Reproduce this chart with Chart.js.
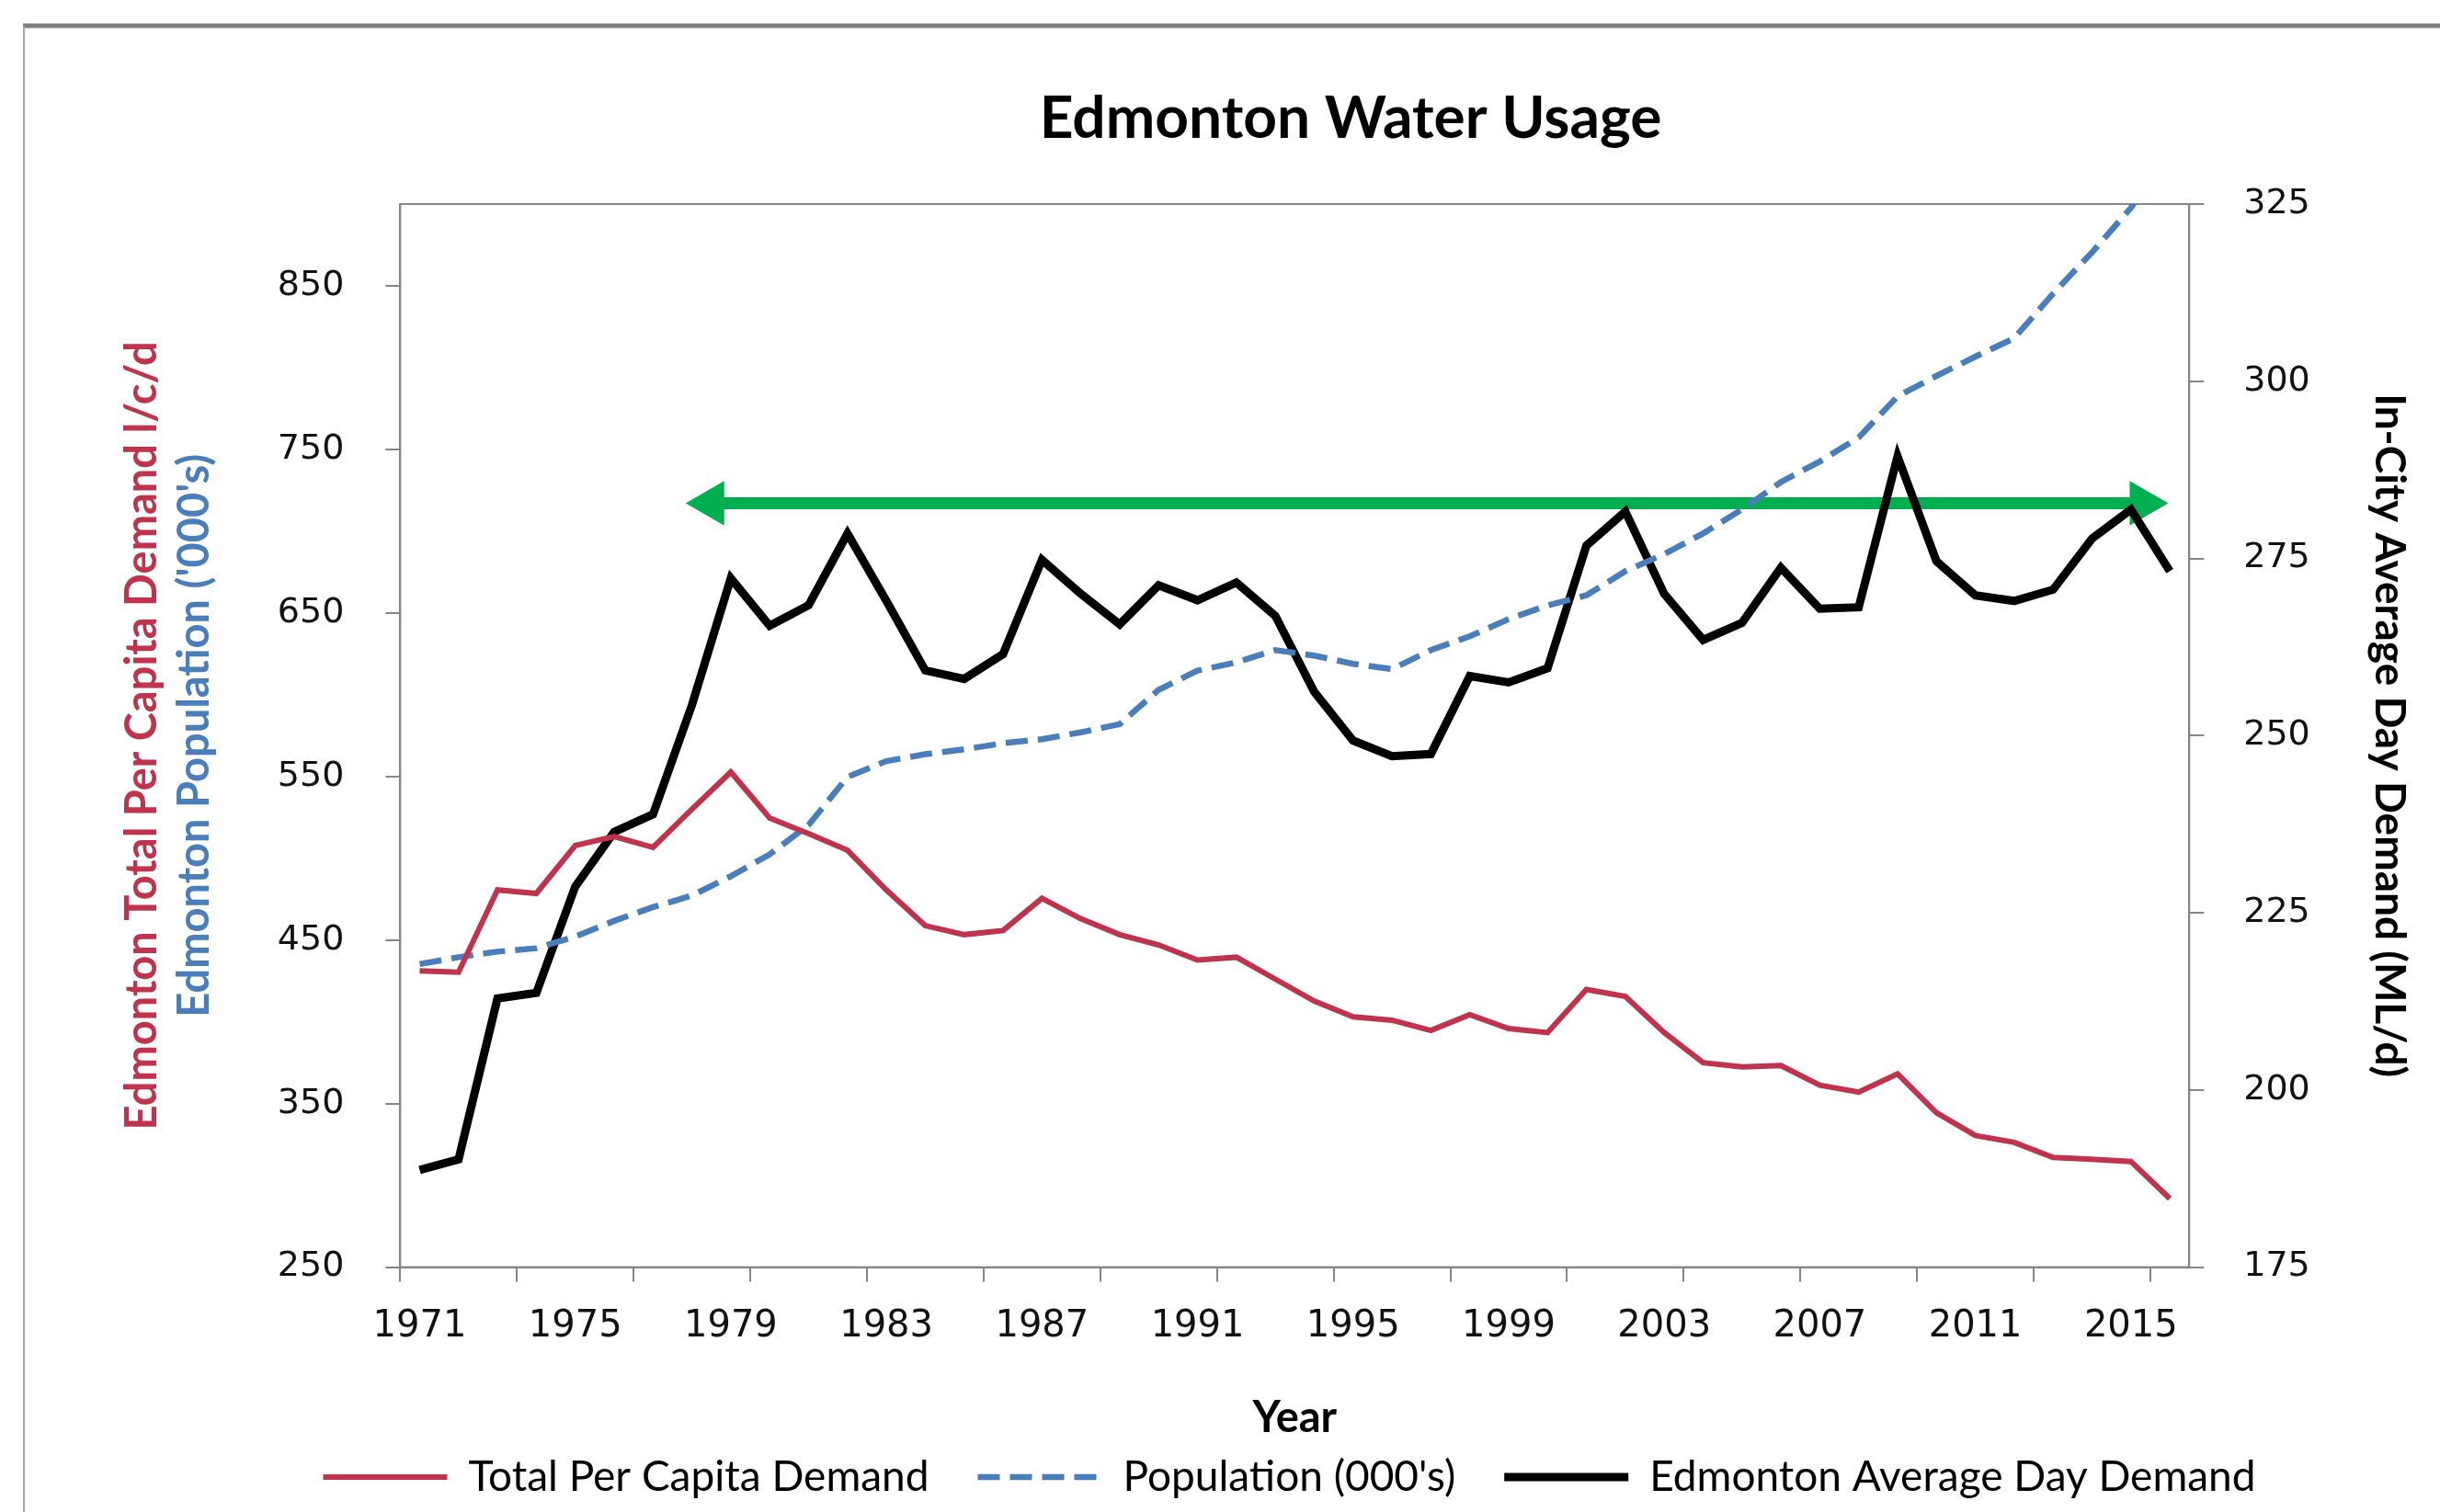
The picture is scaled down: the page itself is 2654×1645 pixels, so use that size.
<!DOCTYPE html>
<html>
<head>
<meta charset="utf-8">
<title>Edmonton Water Usage</title>
<script src="https://cdn.jsdelivr.net/npm/chart.js@4.4.1/dist/chart.umd.min.js"></script>
<style>
  html, body { margin: 0; padding: 0; background: #fff; }
  canvas { display: block; }
</style>
</head>
<body>
<canvas id="waterChart" width="2654" height="1645"></canvas>
<script>
// ======================================
// DATA
// ======================================
const years = [
  1971, 1972, 1973, 1974, 1975, 1976, 1977, 1978, 1979, 1980,
  1981, 1982, 1983, 1984, 1985, 1986, 1987, 1988, 1989, 1990,
  1991, 1992, 1993, 1994, 1995, 1996, 1997, 1998, 1999, 2000,
  2001, 2002, 2003, 2004, 2005, 2006, 2007, 2008, 2009, 2010,
  2011, 2012, 2013, 2014, 2015, 2016
];

// l/c/d, left axis
const perCapitaDemand = [
  431.1, 430.3, 480.6, 478.5, 507.8, 513.3, 506.6, 530.0, 552.7, 524.6,
  515.0, 504.9, 480.6, 458.8, 453.3, 455.8, 475.5, 463.0, 453.3, 447.0,
  437.8, 439.5, 426.1, 412.7, 403.1, 401.0, 394.7, 404.3, 395.9, 393.4,
  419.8, 415.6, 393.4, 375.0, 372.5, 373.3, 361.2, 357.0, 368.2, 344.4,
  330.5, 326.3, 317.1, 315.9, 314.6, 291.9
];

// thousands, left axis
const population = [
  435.3, 439.5, 442.9, 445.0, 452.1, 461.7, 470.1, 477.2, 489.0, 502.4,
  520.4, 549.7, 559.4, 563.6, 566.6, 570.3, 572.8, 577.0, 582.0, 603.0,
  614.7, 619.8, 627.3, 623.9, 618.9, 615.6, 627.3, 635.7, 646.2, 654.6,
  660.8, 675.5, 686.0, 698.6, 713.3, 730.0, 742.6, 757.3, 782.4, 794.9,
  806.7, 818.0, 845.3, 870.4, 897.7, 932.0
];

// ML/d, right axis
const avgDayDemand = [
  188.7, 190.2, 212.9, 213.7, 228.7, 236.4, 238.9, 254.3, 272.2, 265.5,
  268.4, 278.5, 269.0, 259.2, 258.0, 261.5, 274.8, 270.0, 265.7, 271.2,
  269.1, 271.6, 266.9, 256.2, 249.3, 247.1, 247.4, 258.4, 257.5, 259.5,
  276.8, 281.6, 270.0, 263.5, 265.9, 273.7, 267.9, 268.1, 289.4, 274.6,
  269.8, 269.0, 270.6, 277.8, 281.9, 273.2
];

const leftTicks = [250, 350, 450, 550, 650, 750, 850];
const rightTicks = [175, 200, 225, 250, 275, 300, 325];

// green double arrow (year, ML/d)
const arrowYears = [1978.5, 2015.3];
const arrowLevel = [282.8, 282.8];

const RED = '#c0334d';
const BLUE = '#4a7ebb';
const GREEN = '#00b050';
const AXIS_GREY = '#868686';

Chart.defaults.font.family = 'Lato';


// ======================================
// PLUGINS: frame, plot border, heading
// ======================================
const framePlugin = {
    id: 'frame',
    beforeDraw(chart) {
        const ctx = chart.ctx;
        ctx.save();
        ctx.fillStyle = '#fff';
        ctx.fillRect(0, 0, chart.width, chart.height);
        ctx.strokeStyle = '#7f7f7f';
        ctx.lineWidth = 5;
        ctx.beginPath();
        ctx.moveTo(25, 28);
        ctx.lineTo(chart.width, 28);
        ctx.stroke();
        ctx.strokeStyle = '#a6a6a6';
        ctx.lineWidth = 2;
        ctx.beginPath();
        ctx.moveTo(26, 28);
        ctx.lineTo(26, chart.height);
        ctx.stroke();
        ctx.restore();
    },
    beforeDatasetsDraw(chart) {
        const { ctx, chartArea } = chart;
        ctx.save();
        ctx.strokeStyle = AXIS_GREY;
        ctx.lineWidth = 2;
        ctx.strokeRect(chartArea.left, chartArea.top, chartArea.right - chartArea.left, chartArea.bottom - chartArea.top);
        ctx.restore();
    },
    afterDraw(chart) {
        const ctx = chart.ctx;
        ctx.save();
        ctx.font = 'bold 64px Lato';
        ctx.fillStyle = '#000';
        ctx.textAlign = 'center';
        ctx.textBaseline = 'alphabetic';
        ctx.fillText('Edmonton Water Usage', 1469, 150);
        ctx.restore();
    }
};


// ======================================
// CHART
// ======================================
const ctx = document.getElementById('waterChart').getContext('2d');

new Chart(ctx, {
    type: 'line',
    data: {
        labels: years,
        datasets: [
            {
                label: 'Total Per Capita Demand',
                data: perCapitaDemand,
                yAxisID: 'y',
                borderColor: RED,
                backgroundColor: RED,
                borderWidth: 6,
                pointRadius: 0,
                tension: 0
            },
            {
                label: "Population (000's)",
                data: population,
                yAxisID: 'y',
                borderColor: BLUE,
                backgroundColor: BLUE,
                borderWidth: 6.5,
                borderDash: [24, 11],
                pointRadius: 0,
                tension: 0
            },
            {
                label: 'Edmonton Average Day Demand',
                data: avgDayDemand,
                yAxisID: 'y2',
                borderColor: '#000',
                backgroundColor: '#000',
                borderWidth: 9,
                pointRadius: 0,
                tension: 0
            },
            {
                label: 'arrow',
                data: arrowYears.map((yr, i) => ({ x: yr, y: arrowLevel[i] })),
                xAxisID: 'xa',
                yAxisID: 'y2',
                borderColor: GREEN,
                borderWidth: 13,
                pointStyle: 'triangle',
                pointRadius: 28,
                pointRotation: [-90, 90],
                pointBackgroundColor: GREEN,
                pointBorderWidth: 0,
                pointHoverRadius: 28
            }
        ]
    },
    options: {
        responsive: false,
        animation: false,
        devicePixelRatio: 1,
        layout: { padding: { left: 179, right: 28, top: 222, bottom: 5 } },
        scales: {
            x: {
                type: 'category',
                offset: true,
                grid: {
                    offset: true,
                    drawOnChartArea: false,
                    tickLength: 16,
                    lineWidth: 2,
                    color: c => (c.index % 3 === 0 ? AXIS_GREY : 'rgba(0,0,0,0)')
                },
                border: { color: AXIS_GREY, width: 2 },
                ticks: {
                    autoSkip: false,
                    maxRotation: 0,
                    padding: 25,
                    color: '#111',
                    font: { family: 'DejaVu Sans', size: 40 },
                    callback: (val, i) => (i % 4 === 0 ? years[i] : '')
                },
                title: {
                    display: true,
                    text: 'Year',
                    color: '#000',
                    font: { size: 47, weight: 'bold' },
                    padding: { top: 22, bottom: -40 }
                }
            },
            xa: {
                type: 'linear',
                display: false,
                min: 1970.5,
                max: 2016.5
            },
            y: {
                position: 'left',
                weight: 0,
                min: 250,
                max: 900,
                afterBuildTicks: axis => { axis.ticks = leftTicks.map(v => ({ value: v })); },
                grid: { drawOnChartArea: false, tickLength: 16, lineWidth: 2, color: AXIS_GREY },
                border: { color: AXIS_GREY, width: 2 },
                ticks: { padding: 45, color: '#111', font: { family: 'DejaVu Sans', size: 38 } },
                title: {
                    display: true,
                    text: "Edmonton Population ('000's)",
                    color: BLUE,
                    font: { size: 47, weight: 'bold' },
                    padding: { top: 0, bottom: 17 }
                }
            },
            yRed: {
                type: 'linear',
                position: 'left',
                weight: 1,
                grid: { display: false, drawTicks: false },
                border: { display: false },
                ticks: { display: false },
                title: {
                    display: true,
                    text: 'Edmonton Total Per Capita Demand l/c/d',
                    color: RED,
                    font: { size: 47, weight: 'bold' },
                    padding: { top: -52, bottom: 0 }
                }
            },
            y2: {
                position: 'right',
                min: 175,
                max: 325,
                afterBuildTicks: axis => { axis.ticks = rightTicks.map(v => ({ value: v })); },
                grid: { drawOnChartArea: false, tickLength: 16, lineWidth: 2, color: AXIS_GREY },
                border: { color: AXIS_GREY, width: 2 },
                ticks: { padding: 43, color: '#111', font: { family: 'DejaVu Sans', size: 38 } },
                title: {
                    display: true,
                    text: 'In-City Average Day Demand (ML/d)',
                    color: '#000',
                    font: { size: 46, weight: 'bold' },
                    padding: { top: 0, bottom: 15 }
                }
            }
        },
        plugins: {
            tooltip: { enabled: false },
            legend: {
                position: 'bottom',
                maxHeight: 124,
                labels: {
                    color: '#000',
                    font: { size: 46 },
                    padding: 53,
                    usePointStyle: true,
                    pointStyleWidth: 135,
                    generateLabels: chart => chart.data.datasets.slice(0, 3).map((ds, i) => ({
                        text: ds.label,
                        datasetIndex: i,
                        fontColor: '#000',
                        fillStyle: ds.borderColor,
                        strokeStyle: ds.borderColor,
                        lineWidth: ds.borderWidth,
                        lineDash: ds.borderDash || [],
                        pointStyle: 'line',
                        hidden: false
                    }))
                }
            }
        }
    },
    plugins: [framePlugin]
});
</script>
</body>
</html>
